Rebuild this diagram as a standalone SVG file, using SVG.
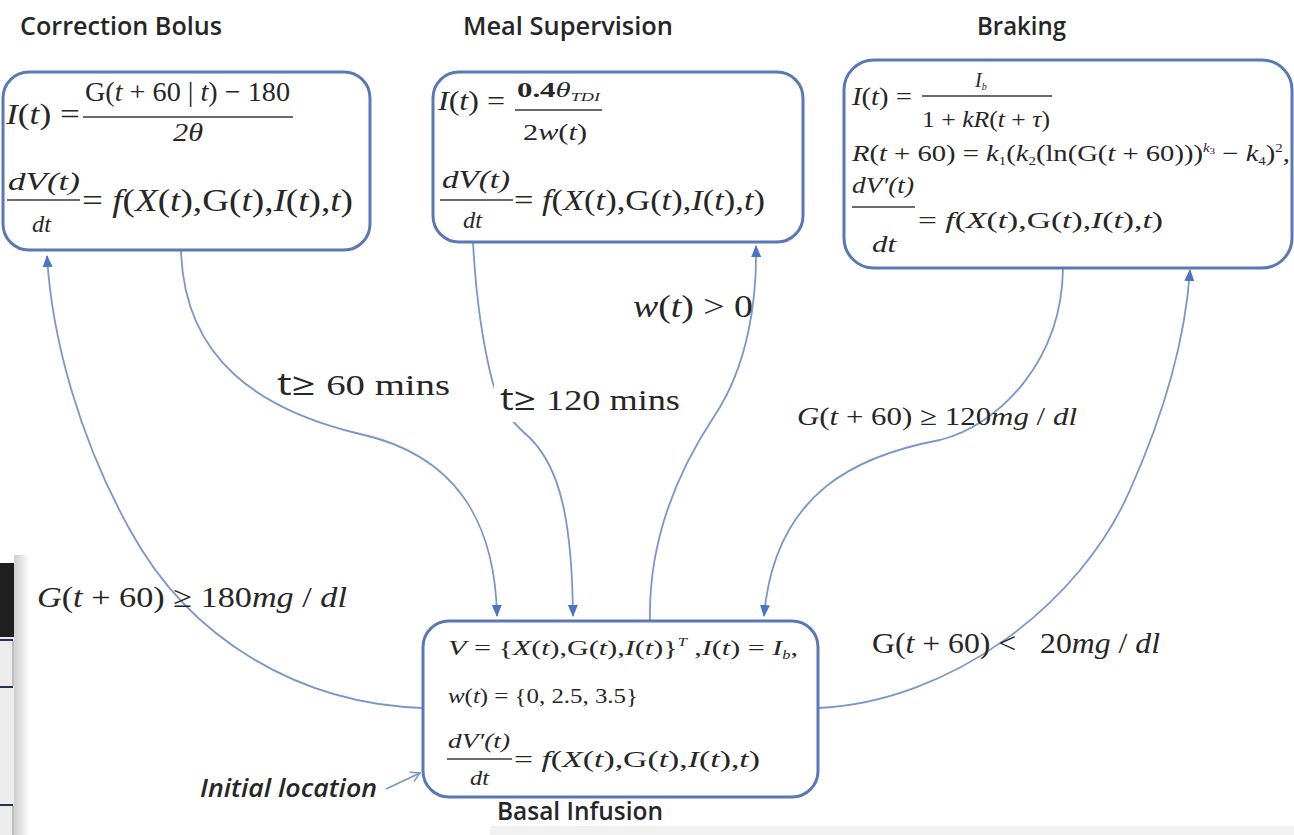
<svg xmlns="http://www.w3.org/2000/svg" width="1294" height="835" viewBox="0 0 1294 835">
<defs>
<style>
.box{fill:#fff;stroke:#5b78b6;stroke-width:3}
.conn{fill:none;stroke:#7a96cc;stroke-width:1.8}
.m{font-family:"Liberation Serif","Times New Roman",serif;fill:#262626}
.i{font-style:italic}
.s{font-family:"Open Sans","Noto Sans",sans-serif;fill:#262626}
.t{font-weight:600}
.bar{stroke:#3a3a3a;stroke-width:1.6}
</style>
<marker id="ah" markerWidth="12" markerHeight="12" refX="11" refY="6" orient="auto" markerUnits="userSpaceOnUse">
<path d="M0,1 L12,6 L0,11 Z" fill="#4a74c6"/>
</marker>
<marker id="oa" markerWidth="12" markerHeight="12" refX="10" refY="6" orient="auto" markerUnits="userSpaceOnUse">
<path d="M1,1 L10,6 L1,11" fill="none" stroke="#7a96cc" stroke-width="1.6"/>
</marker>
<linearGradient id="fade" x1="0" x2="1" y1="0" y2="0">
<stop offset="0" stop-color="#cfcfcf"/>
<stop offset="1" stop-color="#ffffff"/>
</linearGradient>
</defs>
<rect width="1294" height="835" fill="#fff"/>

<!-- screenshot artifacts -->
<g id="artifacts">
<rect x="490" y="826" width="804" height="9" fill="#f1f1f1"/>
<rect x="14" y="555" width="16" height="280" fill="url(#fade)"/>
<rect x="0" y="563" width="14" height="74" fill="#202020"/>
<rect x="0" y="637" width="14" height="198" fill="#ececec"/>
<rect x="0" y="639" width="13" height="2" fill="#2b3050"/>
<rect x="0" y="686" width="13" height="2" fill="#2b3050"/>
<rect x="0" y="804" width="13" height="2" fill="#2b3050"/>
<rect x="12" y="641" width="2" height="45" fill="#bdbdbd"/>
<rect x="12" y="806" width="2" height="29" fill="#bdbdbd"/>
</g>

<g id="connectors">
<path class="conn" d="M423,708 C300,704 190,640 130,530 C80,440 52,340 47,256" marker-end="url(#ah)"/>
<path class="conn" d="M181,250 C184,360 260,410 360,434 C455,455 495,520 497,616" marker-end="url(#ah)"/>
<path class="conn" d="M473,242 C476,300 482,340 492,380 C500,410 515,425 530,438 C560,468 572,520 573,616" marker-end="url(#ah)"/>
<path class="conn" d="M650,621 C648,530 685,460 715,415 C748,365 757,300 756,246" marker-end="url(#ah)"/>
<path class="conn" d="M1063,268 C1062,360 1000,425 940,440 C860,455 775,490 764,616" marker-end="url(#ah)"/>
<path class="conn" d="M818,708 C950,702 1080,605 1130,490 C1168,405 1186,330 1190,270" marker-end="url(#ah)"/>
<path class="conn" d="M386,789 L420,773" marker-end="url(#oa)"/>
</g>

<g id="correction-bolus">
<rect class="box" x="3" y="72" width="367" height="178" rx="26"/>
<text class="s t" x="20" y="35" font-size="26" textLength="202" lengthAdjust="spacingAndGlyphs">Correction Bolus</text>
<text class="m" x="6" y="124" font-size="30" textLength="74" lengthAdjust="spacingAndGlyphs"><tspan class="i">I</tspan>(<tspan class="i">t</tspan>) =</text>
<text class="m" x="85" y="101" font-size="28" textLength="205" lengthAdjust="spacingAndGlyphs">G(<tspan class="i">t</tspan> + 60 | <tspan class="i">t</tspan>) − 180</text>
<line class="bar" x1="83" y1="117" x2="293" y2="117"/>
<text class="m i" x="173" y="141" font-size="25" textLength="30" lengthAdjust="spacingAndGlyphs">2θ</text>
<text class="m i" x="8" y="190" font-size="25" textLength="72" lengthAdjust="spacingAndGlyphs">dV(t)</text>
<line class="bar" x1="7" y1="200" x2="80" y2="200"/>
<text class="m i" x="32" y="232" font-size="23" textLength="19" lengthAdjust="spacingAndGlyphs">dt</text>
<text class="m" x="82" y="211" font-size="31" textLength="271" lengthAdjust="spacingAndGlyphs">= <tspan class="i">f</tspan>(<tspan class="i">X</tspan>(<tspan class="i">t</tspan>),G(<tspan class="i">t</tspan>),<tspan class="i">I</tspan>(<tspan class="i">t</tspan>),<tspan class="i">t</tspan>)</text>
</g>

<g id="meal-supervision">
<rect class="box" x="433" y="72" width="370" height="170" rx="26"/>
<text class="s t" x="463" y="35" font-size="26" textLength="210" lengthAdjust="spacingAndGlyphs">Meal Supervision</text>
<text class="m" x="438" y="110" font-size="27" textLength="67" lengthAdjust="spacingAndGlyphs"><tspan class="i">I</tspan>(<tspan class="i">t</tspan>) =</text>
<text class="m" x="517" y="97" font-size="22" font-weight="bold" textLength="83" lengthAdjust="spacingAndGlyphs">0.4<tspan class="i" font-weight="normal">θ</tspan><tspan class="i" font-weight="normal" font-size="13" dy="4">TDI</tspan></text>
<line class="bar" x1="515" y1="110" x2="602" y2="110"/>
<text class="m" x="523" y="140" font-size="24" textLength="64" lengthAdjust="spacingAndGlyphs">2<tspan class="i">w</tspan>(<tspan class="i">t</tspan>)</text>
<text class="m i" x="442" y="188" font-size="25" textLength="68" lengthAdjust="spacingAndGlyphs">dV(t)</text>
<line class="bar" x1="440" y1="200" x2="513" y2="200"/>
<text class="m i" x="463" y="228" font-size="23" textLength="19" lengthAdjust="spacingAndGlyphs">dt</text>
<text class="m" x="514" y="210" font-size="29" textLength="251" lengthAdjust="spacingAndGlyphs">= <tspan class="i">f</tspan>(<tspan class="i">X</tspan>(<tspan class="i">t</tspan>),G(<tspan class="i">t</tspan>),<tspan class="i">I</tspan>(<tspan class="i">t</tspan>),<tspan class="i">t</tspan>)</text>
</g>

<g id="braking">
<rect class="box" x="844" y="60" width="448" height="208" rx="30"/>
<text class="s t" x="977" y="35" font-size="26" textLength="89" lengthAdjust="spacingAndGlyphs">Braking</text>
<text class="m" x="852" y="105" font-size="25" textLength="60" lengthAdjust="spacingAndGlyphs"><tspan class="i">I</tspan>(<tspan class="i">t</tspan>) =</text>
<text class="m i" x="975" y="87" font-size="20">I<tspan font-size="10" dy="3">b</tspan></text>
<line class="bar" x1="922" y1="96" x2="1052" y2="96"/>
<text class="m" x="922" y="127" font-size="24" textLength="128" lengthAdjust="spacingAndGlyphs">1 + <tspan class="i">kR</tspan>(<tspan class="i">t</tspan> + <tspan class="i">τ</tspan>)</text>
<text class="m" x="852" y="161" font-size="23" textLength="438" lengthAdjust="spacingAndGlyphs"><tspan class="i">R</tspan>(<tspan class="i">t</tspan> + 60) = <tspan class="i">k</tspan><tspan font-size="12" dy="4">1</tspan><tspan dy="-4">(</tspan><tspan class="i">k</tspan><tspan font-size="12" dy="4">2</tspan><tspan dy="-4">(ln(G(</tspan><tspan class="i">t</tspan> + 60)))<tspan class="i" font-size="12" dy="-9">k</tspan><tspan font-size="9" dy="2">3</tspan><tspan dy="7"> − </tspan><tspan class="i">k</tspan><tspan font-size="12" dy="4">4</tspan><tspan dy="-4">)</tspan><tspan font-size="12" dy="-9">2</tspan><tspan dy="9">,</tspan></text>
<text class="m i" x="852" y="193" font-size="23" textLength="62" lengthAdjust="spacingAndGlyphs">dV′(t)</text>
<line class="bar" x1="852" y1="207" x2="915" y2="207"/>
<text class="m i" x="872" y="252" font-size="23" textLength="24" lengthAdjust="spacingAndGlyphs">dt</text>
<text class="m" x="918" y="228" font-size="23" textLength="245" lengthAdjust="spacingAndGlyphs">= <tspan class="i">f</tspan>(<tspan class="i">X</tspan>(<tspan class="i">t</tspan>),G(<tspan class="i">t</tspan>),<tspan class="i">I</tspan>(<tspan class="i">t</tspan>),<tspan class="i">t</tspan>)</text>
</g>

<g id="basal-infusion">
<rect class="box" x="423" y="621" width="395" height="176" rx="26"/>
<text class="m" x="448" y="655" font-size="22" textLength="350" lengthAdjust="spacingAndGlyphs"><tspan class="i">V</tspan> = {<tspan class="i">X</tspan>(<tspan class="i">t</tspan>),G(<tspan class="i">t</tspan>),<tspan class="i">I</tspan>(<tspan class="i">t</tspan>)}<tspan class="i" font-size="12" dy="-9">T</tspan><tspan dy="9"> ,</tspan><tspan class="i">I</tspan>(<tspan class="i">t</tspan>) = <tspan class="i">I</tspan><tspan class="i" font-size="12" dy="4">b</tspan><tspan dy="-4">,</tspan></text>
<text class="m" x="448" y="703" font-size="22" textLength="190" lengthAdjust="spacingAndGlyphs"><tspan class="i">w</tspan>(<tspan class="i">t</tspan>) = {0, 2.5, 3.5}</text>
<text class="m i" x="448" y="748" font-size="22" textLength="62" lengthAdjust="spacingAndGlyphs">dV′(t)</text>
<line class="bar" x1="447" y1="759" x2="512" y2="759"/>
<text class="m i" x="470" y="785" font-size="22" textLength="19" lengthAdjust="spacingAndGlyphs">dt</text>
<text class="m" x="514" y="767" font-size="24" textLength="246" lengthAdjust="spacingAndGlyphs">= <tspan class="i">f</tspan>(<tspan class="i">X</tspan>(<tspan class="i">t</tspan>),G(<tspan class="i">t</tspan>),<tspan class="i">I</tspan>(<tspan class="i">t</tspan>),<tspan class="i">t</tspan>)</text>
<text class="s t" x="497" y="820" font-size="26" textLength="166" lengthAdjust="spacingAndGlyphs">Basal Infusion</text>
</g>

<g id="labels">
<text class="m" x="277" y="395" font-size="29" textLength="173" lengthAdjust="spacingAndGlyphs"><tspan class="s" font-size="31">t≥ </tspan>60 mins</text>
<rect x="494" y="378" width="190" height="44" fill="#fff"/>
<text class="m" x="500" y="410" font-size="29" textLength="180" lengthAdjust="spacingAndGlyphs"><tspan class="s" font-size="31">t≥ </tspan>120 mins</text>
<text class="m" x="633" y="317" font-size="32" textLength="120" lengthAdjust="spacingAndGlyphs"><tspan class="i">w</tspan>(<tspan class="i">t</tspan>) &gt; 0</text>
<text class="m" x="797" y="425" font-size="26" textLength="280" lengthAdjust="spacingAndGlyphs"><tspan class="i">G</tspan>(<tspan class="i">t</tspan> + 60) ≥ 120<tspan class="i">mg</tspan> / <tspan class="i">dl</tspan></text>
<text class="m" x="872" y="653" font-size="29" textLength="288" lengthAdjust="spacingAndGlyphs">G(<tspan class="i">t</tspan> + 60) &lt;&#160;&#160;&#160;20<tspan class="i">mg</tspan> / <tspan class="i">dl</tspan></text>
<text class="m" x="37" y="607" font-size="30" textLength="310" lengthAdjust="spacingAndGlyphs"><tspan class="i">G</tspan>(<tspan class="i">t</tspan> + 60) ≥ 180<tspan class="i">mg</tspan> / <tspan class="i">dl</tspan></text>
<text class="s t" x="200" y="797" font-size="26" font-style="italic" textLength="177" lengthAdjust="spacingAndGlyphs">Initial location</text>
</g>
</svg>
